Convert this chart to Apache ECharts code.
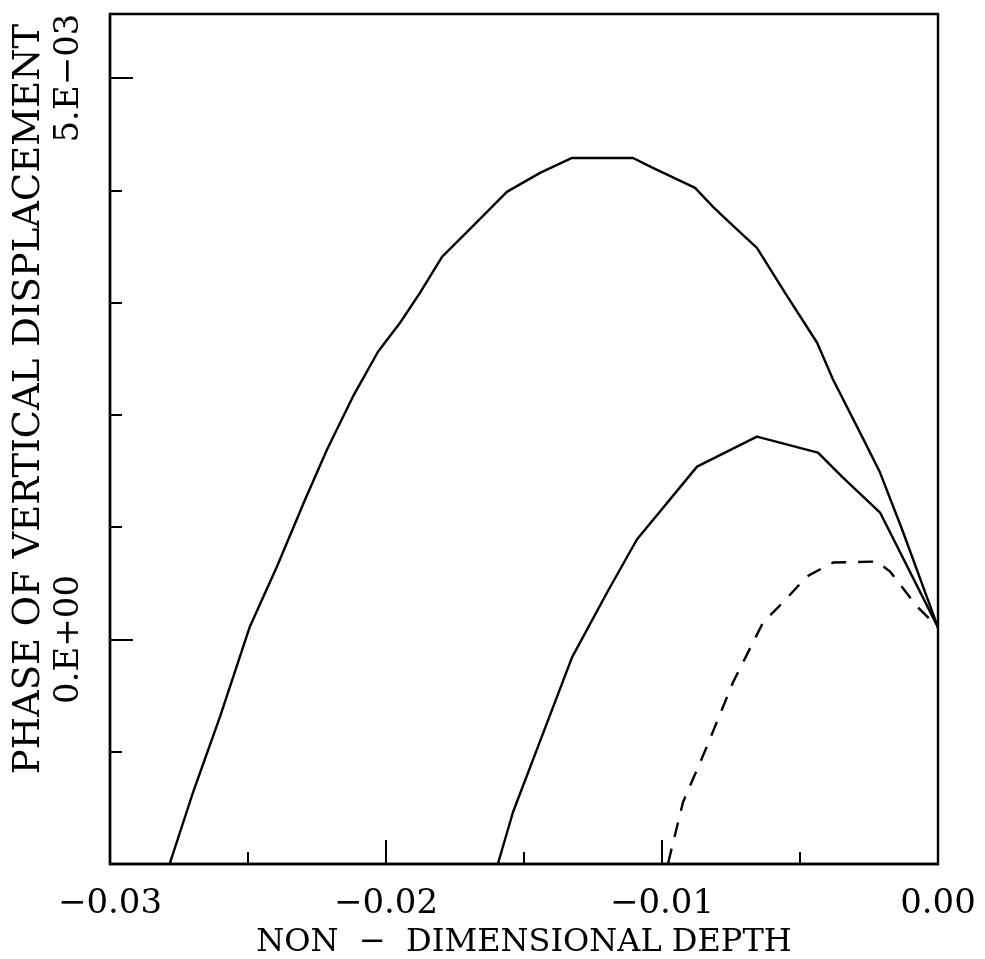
<!DOCTYPE html>
<html>
<head>
<meta charset="utf-8">
<script src="https://cdn.jsdelivr.net/npm/echarts@6/dist/echarts.min.js"></script>
<style>html,body{margin:0;padding:0;background:#fff}#c{width:985px;height:959px}</style>
</head>
<body>
<div id="c"></div>
<script>
// Depth values (x) and phase values (y)
const outerX = [-0.02783,-0.02699,-0.02601,-0.02493,-0.02395,-0.02293,-0.02214,-0.02120,-0.02029,-0.01949,-0.01877,-0.01797,-0.01688,-0.01562,-0.01442,-0.01326,-0.01105,-0.01033,-0.00880,-0.00815,-0.00746,-0.00656,-0.00554,-0.00438,-0.00380,-0.00275,-0.00210,-0.00130,0.0];
const outerY = [-0.001993,-0.001361,-0.000685,0.000116,0.000649,0.001246,0.001690,0.002162,0.002562,0.002820,0.003087,0.003407,0.003674,0.003986,0.004155,0.004288,0.004288,0.004199,0.004021,0.003852,0.003692,0.003488,0.003087,0.002642,0.002313,0.001806,0.001486,0.000979,0.000107];
const middleX = [-0.01594,-0.01540,-0.01449,-0.01326,-0.01199,-0.01091,-0.00873,-0.00656,-0.00435,-0.00348,-0.00210,0.0];
const middleY = [-0.001993,-0.001539,-0.000952,-0.000160,0.000418,0.000890,0.001539,0.001806,0.001664,0.001450,0.001130,0.000107];
const dashedX = [-0.00978,-0.00924,-0.00837,-0.00743,-0.00634,-0.00562,-0.00475,-0.00380,-0.00221,-0.00174,-0.00076,0.0];
const dashedY = [-0.001993,-0.001450,-0.000952,-0.000383,0.000151,0.000329,0.000561,0.000685,0.000694,0.000605,0.000294,0.000107];
const xTickLabels = {'-0.03':'\u22120.03','-0.02':'\u22120.02','-0.01':'\u22120.01','0':'0.00'};
const yTickLabels = {'0':'0.E+00','0.005':'5.E\u221203'};

const zip = (a,b) => a.map((v,i)=>[v,b[i]]);
const FONT = 'DejaVu Serif';
const chart = echarts.init(document.getElementById('c'), null, {renderer:'canvas'});
const lineW = 2.4;
chart.setOption({
  animation:false,
  backgroundColor:'#fff',
  grid:{left:110,right:47,top:14,bottom:95,show:true,borderColor:'#000',borderWidth:lineW,backgroundColor:'transparent',
        containLabel:false,outerBoundsMode:'none'},
  xAxis:{
    type:'value',min:-0.03,max:0,interval:0.01,
    name:'NON  \u2212  DIMENSIONAL DEPTH',nameLocation:'middle',nameGap:63,
    nameTextStyle:{fontFamily:FONT,fontSize:32,color:'#000'},
    axisLine:{onZero:false,lineStyle:{color:'#000',width:lineW}},
    axisTick:{inside:true,length:24,lineStyle:{color:'#000',width:2}},
    minorTick:{show:true,splitNumber:2,length:12,lineStyle:{color:'#000',width:2}},
    splitLine:{show:false},
    axisLabel:{margin:23,fontFamily:FONT,fontSize:34,color:'#000',
      formatter:v=>xTickLabels[String(Math.round(v*100)/100)] ?? ''}
  },
  yAxis:[{
    type:'value',min:-0.002,max:0.00557,interval:0.001,position:'left',
    name:'PHASE OF VERTICAL DISPLACEMENT',nameLocation:'middle',nameGap:62,nameRotate:90,
    nameTextStyle:{fontFamily:FONT,fontSize:37,color:'#000',padding:[0,0,0,80]},
    axisLine:{onZero:false,lineStyle:{color:'#000',width:lineW}},
    axisTick:{inside:true,length:12,lineStyle:{color:'#000',width:2}},
    splitLine:{show:false},
    axisLabel:{show:false}
  },{
    type:'value',min:-0.002,max:0.00557,position:'left',
    axisLine:{show:false,onZero:false},
    axisTick:{show:true,inside:true,length:23,customValues:[0,0.005],lineStyle:{color:'#000',width:2}},
    splitLine:{show:false},
    axisLabel:{show:true,customValues:[0,0.005],rotate:90,margin:24,fontFamily:FONT,fontSize:34,color:'#000',
      formatter:v=>yTickLabels[String(Math.round(v*1000)/1000)] ?? ''}
  }],
  series:[
    {type:'line',data:zip(outerX,outerY),showSymbol:false,symbol:'none',lineStyle:{color:'#000',width:lineW},z:3},
    {type:'line',data:zip(middleX,middleY),showSymbol:false,symbol:'none',lineStyle:{color:'#000',width:lineW},z:3},
    {type:'line',data:zip(dashedX,dashedY),showSymbol:false,symbol:'none',lineStyle:{color:'#000',width:lineW,type:[15,12]},z:3}
  ]
});
</script>
</body>
</html>
